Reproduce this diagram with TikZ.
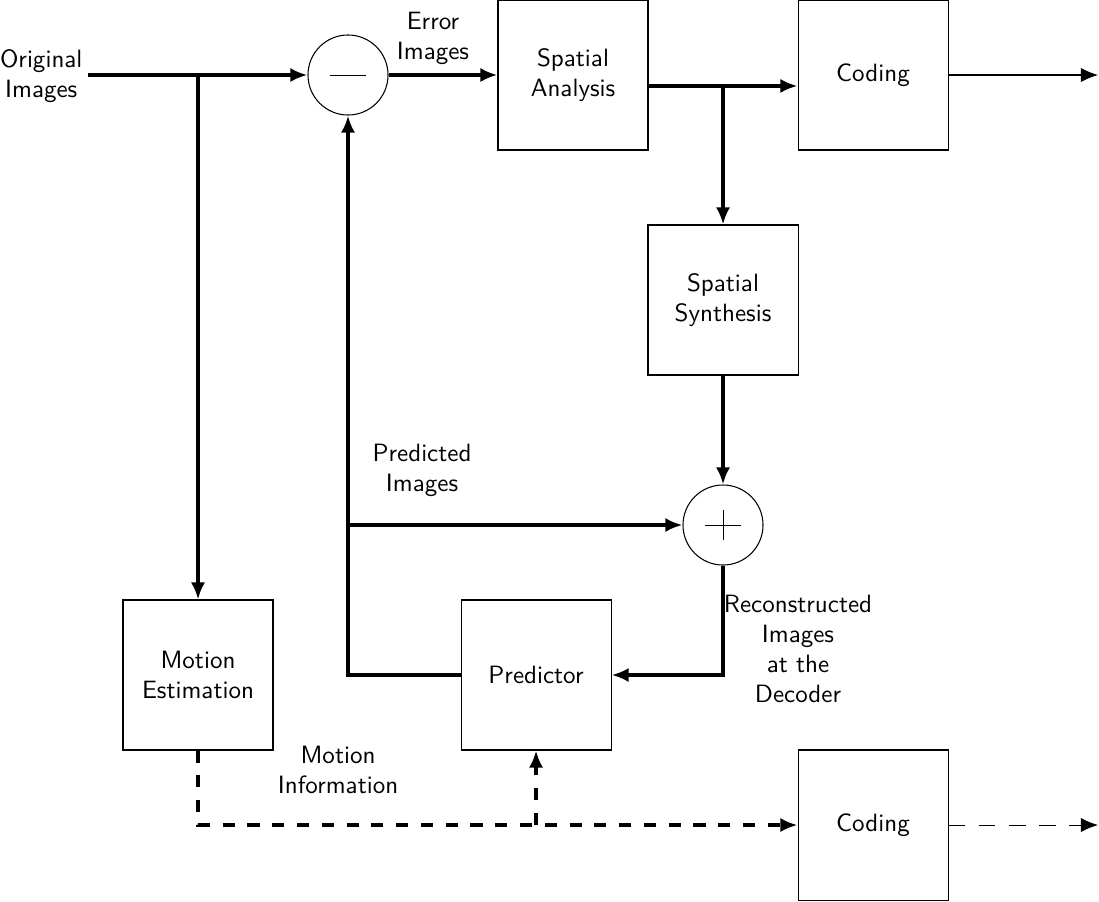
\documentclass[tikz,border=0pt]{standalone}
\usepackage{tikz}
\usetikzlibrary{arrows.meta,positioning,calc}
\tikzset{
	>={Latex[length=6.5pt,width=5.4pt]},
	block/.style = {
			draw,
			thin,
			minimum width = 2cm,
			minimum height = 2cm,
			align = center,
		},
	sumnode/.style = {
			draw,
			thin,
			circle,
			minimum size = 1.067cm,
			inner sep = 0pt,
		},
	flow/.style = {line width=1.5pt},
	dflow/.style = {line width=1.5pt, dash pattern=on 4.6pt off 4.8pt},
	lbl/.style = {align=center},
}

\begin{document}
\begin{tikzpicture}[font=\sffamily\fontsize{9.5pt}{11.4pt}\selectfont]
        \useasboundingbox (0,0) rectangle (14.653,12.013);
        \node[lbl] at (0.55,11.0) (orig) {Original\\Images};
        \node[sumnode] at (4.64,11.013) (minus) {};
        \draw[very thin] ($(minus.center)+(-0.245,0)$) -- ($(minus.center)+(0.245,0)$);
        \node[block] at (7.64,11.013) (sa) {Spatial\\Analysis};
        \node[block] at (11.64,11.013) (cod1) {Coding};
        \node[block] at (9.64,8.013) (ss) {Spatial\\Synthesis};
        \node[sumnode] at (9.64,5.013) (plus) {};
        \draw[very thin] ($(plus.center)+(-0.245,0)$) -- ($(plus.center)+(0.245,0)$);
        \draw[very thin] ($(plus.center)+(0,-0.2)$) -- ($(plus.center)+(0,0.2)$);
        \node[block] at (2.64,3.013) (me) {Motion\\Estimation};
        \node[block] at (7.147,3.013) (pred) {Predictor};
        \node[block] at (11.64,1.013) (cod2) {Coding};
        \coordinate (j1) at (me |- minus);
        \coordinate (j2) at (9.64,10.867);
        \coordinate (j3) at (minus |- plus);
        \coordinate (j4) at (pred |- cod2);
        \coordinate (out1) at (14.64,11.013);
        \coordinate (out2) at (14.64,1.013);
        \node[lbl] at (5.773,11.5) (errlbl) {Error\\Images};
        \node[lbl] at (5.627,5.747) (predlbl) {Predicted\\Images};
        \node[lbl] at (10.64,3.36) (reclbl) {Reconstructed\\Images\\at the\\Decoder};
        \node[lbl] at (4.507,1.747) (motlbl) {Motion\\Information};
        \draw[flow,->] (1.173,11.013) -- (minus.west);
        \draw[flow,->] (j1) -- (me.north);
        \draw[flow,->] (minus.east) -- (sa.west);
        \draw[flow,->] (sa.east |- j2) -- (cod1.west |- j2);
        \draw[flow,->] (j2) -- (ss.north);
        \draw[thin,->] (cod1.east) -- (out1);
        \draw[flow,->] (ss.south) -- (plus.north);
        \draw[flow,->] (j3) -- (plus.west);
        \draw[flow,->] (pred.west) -- (minus |- pred) -- (minus.south);
        \draw[flow,->] (plus.south) -- (plus |- pred) -- (pred.east);
        \draw[dflow,->] (me.south) -- (me |- cod2) -- (cod2.west);
        \draw[dflow,->] (j4) -- (pred.south);
        \draw[thin,dash pattern=on 6.4pt off 5pt,->] (cod2.east) -- (out2);
      \end{tikzpicture}
\end{document}
